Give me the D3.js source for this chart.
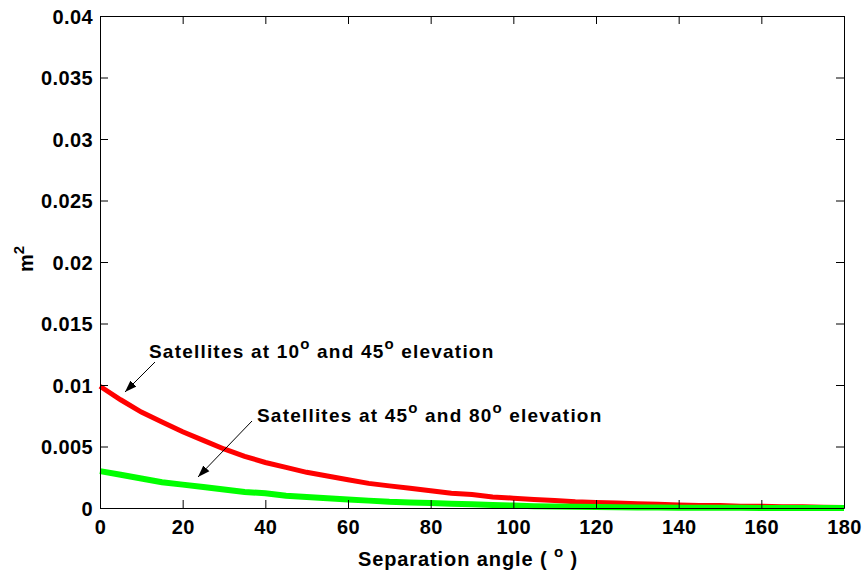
<!DOCTYPE html>
<html><head><meta charset="utf-8">
<script src="https://cdn.jsdelivr.net/npm/d3@7"></script>
<style>body{margin:0;background:#fff}svg{display:block}text{font-family:"Liberation Sans",Arial,sans-serif;font-weight:bold}</style>
</head><body><svg id="c" width="864" height="575"></svg>
<script>
const angles = [0,5,10,15,20,25,30,35,40,45,50,55,60,65,70,75,80,85,90,95,100,105,110,115,120,125,130,135,140,145,150,155,160,165,170,175,180];
const red10_45 = [0.0099,0.0088,0.0078,0.0070,0.0062,0.0055,0.0048,0.0042,0.0037,0.0033,0.0029,0.0026,0.0023,0.0020,0.0018,0.0016,0.0014,0.0012,0.0011,0.0009,0.0008,0.0007,0.0006,0.0005,0.00045,0.0004,0.00035,0.0003,0.00025,0.0002,0.0002,0.00015,0.00015,0.0001,0.0001,0.00006,0.00005];
const green45_80 = [0.0030,0.0027,0.0024,0.0021,0.0019,0.0017,0.0015,0.0013,0.0012,0.0010,0.0009,0.0008,0.0007,0.0006,0.0005,0.00045,0.0004,0.00035,0.0003,0.00025,0.0002,0.00015,0.00012,0.0001,0.00008,0.00006,0.00005,0.00004,0.00003,0.00003,0.00002,0.00002,0.00001,0.00001,0.00001,0,0];
const xTicks = [0,20,40,60,80,100,120,140,160,180];
const yTicks = [0,0.005,0.01,0.015,0.02,0.025,0.03,0.035,0.04];
const yTickLabels = ["0","0.005","0.01","0.015","0.02","0.025","0.03","0.035","0.04"];

const L=100,R=844,T=16,B=508;
const svg=d3.select("#c");
const x=d3.scaleLinear().domain([0,180]).range([L,R]);
const y=d3.scaleLinear().domain([0,0.04]).range([B,T]);

const line=d3.line().x((d,i)=>x(angles[i])).y(d=>y(d));
svg.append("path").datum(red10_45).attr("d",line).attr("fill","none").attr("stroke","#ff0000").attr("stroke-width",5);
svg.append("path").datum(green45_80).attr("d",line).attr("fill","none").attr("stroke","#00ff00").attr("stroke-width",6);

// axes
const tickFmt=(d,i)=>yTickLabels[yTicks.indexOf(d)];
const gx=svg.append("g").attr("transform",`translate(0,${B})`).call(d3.axisBottom(x).tickValues(xTicks).tickSizeInner(-8).tickSizeOuter(0).tickPadding(12));
const gxt=svg.append("g").attr("transform",`translate(0,${T})`).call(d3.axisTop(x).tickValues(xTicks).tickSizeInner(-8).tickSizeOuter(0).tickFormat(""));
const gy=svg.append("g").attr("transform",`translate(${L},0)`).call(d3.axisLeft(y).tickValues(yTicks).tickSizeInner(-8).tickSizeOuter(0).tickPadding(7).tickFormat(tickFmt));
const gyr=svg.append("g").attr("transform",`translate(${R},0)`).call(d3.axisRight(y).tickValues(yTicks).tickSizeInner(-8).tickSizeOuter(0).tickFormat(""));
[gx,gxt,gy,gyr].forEach(g=>{g.selectAll("path,line").attr("stroke","#000").attr("stroke-width",1);g.selectAll("text").attr("font-size",20).attr("letter-spacing","0.4").attr("font-family","Liberation Sans, Arial, sans-serif").attr("font-weight","bold").attr("fill","#000");});
gy.selectAll("text").attr("dy","0.36em");

// axis labels
const xl=svg.append("text").attr("x",468).attr("y",566).attr("text-anchor","middle").attr("font-size",20).attr("letter-spacing","0.9");
xl.append("tspan").text("Separation angle ( ");
xl.append("tspan").attr("dy",-9).attr("font-size",15).text("o");
xl.append("tspan").attr("dy",9).text(" )");
const yl=svg.append("text").attr("transform","translate(33,259) rotate(-90)").attr("text-anchor","middle").attr("font-size",20);
yl.append("tspan").text("m");
yl.append("tspan").attr("dy",-9).attr("font-size",15).text("2");

// annotations
function label(px,py,parts){
  const t=svg.append("text").attr("x",px).attr("y",py).attr("font-size",19).attr("letter-spacing","1.2");
  parts.forEach(p=>{
    if(p.sup){t.append("tspan").attr("dy",-9).attr("font-size",15).text(p.t);}
    else{t.append("tspan").attr("dy",p.after?9:0).text(p.t);}
  });
}
label(149,358,[{t:"Satellites at 10"},{t:"o",sup:1},{t:" and 45",after:1},{t:"o",sup:1},{t:" elevation",after:1}]);
label(257,422,[{t:"Satellites at 45"},{t:"o",sup:1},{t:" and 80",after:1},{t:"o",sup:1},{t:" elevation",after:1}]);

svg.append("defs").append("marker").attr("id","ah").attr("viewBox","0 0 10 10").attr("refX",10).attr("refY",5)
  .attr("markerWidth",12).attr("markerHeight",12).attr("markerUnits","userSpaceOnUse").attr("orient","auto")
  .append("path").attr("d","M0,1.5 L10,5 L0,8.5 Z").attr("fill","#000");
svg.append("line").attr("x1",155).attr("y1",362).attr("x2",125).attr("y2",392).attr("stroke","#000").attr("stroke-width",1).attr("marker-end","url(#ah)");
svg.append("line").attr("x1",252).attr("y1",421).attr("x2",198).attr("y2",477).attr("stroke","#000").attr("stroke-width",1).attr("marker-end","url(#ah)");
</script></body></html>
